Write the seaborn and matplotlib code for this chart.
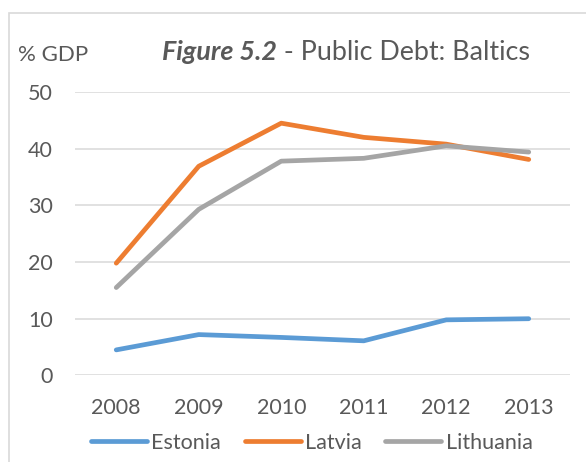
import pandas as pd
import matplotlib.pyplot as plt
import seaborn as sns
from matplotlib.patches import Rectangle

# Данные, % ВВП
years = [2008, 2009, 2010, 2011, 2012, 2013]
estonia = [4.5, 7.2, 6.7, 6.1, 9.8, 10.0]
latvia = [19.8, 36.9, 44.5, 42.0, 40.8, 38.1]
lithuania = [15.5, 29.3, 37.8, 38.3, 40.5, 39.4]
countries = ["Estonia", "Latvia", "Lithuania"]
colors = ["#5B9BD5", "#ED7D31", "#A5A5A5"]

df = pd.DataFrame({"Year": years * 3,
                   "Debt": estonia + latvia + lithuania,
                   "Country": [c for c in countries for _ in years]})

sns.set_style("white")
plt.rcParams["font.family"] = ["Lato", "DejaVu Sans"]
text_color = "#595959"

fig = plt.figure(figsize=(5.86, 4.62), dpi=100)
ax = fig.add_axes([75 / 586, 1 - 375.4 / 462, 495 / 586, (375.4 - 92) / 462])

sns.lineplot(data=df, x="Year", y="Debt", hue="Country", palette=colors,
             linewidth=3.4, ax=ax, legend=False)
for line in ax.get_lines():
    line.set_solid_capstyle("round")
    line.set_solid_joinstyle("round")

ax.set_xlim(years[0] - 0.5, years[-1] + 0.5)
ax.set_ylim(0, 50)
ax.set_xticks(years)
ax.set_yticks(range(0, 51, 10))
ax.set_xlabel("")
ax.set_ylabel("")
ax.grid(axis="y", color="#D9D9D9", linewidth=1.1)
ax.set_axisbelow(True)
for s in ax.spines.values():
    s.set_visible(False)
ax.tick_params(axis="both", length=0, labelsize=15.5, colors=text_color)
ax.tick_params(axis="y", pad=16)
ax.tick_params(axis="x", pad=16)

# Легенда
handles = [plt.Line2D([], [], color=c, linewidth=3.4, solid_capstyle="round") for c in colors]
fig.legend(handles, countries, loc="center", bbox_to_anchor=(0.532, 1 - 443 / 462),
           ncol=3, frameon=False, fontsize=15.5, handlelength=2.6,
           handletextpad=0.2, columnspacing=1.1, labelcolor=text_color)

# Заголовок и подпись оси
fig.text(18 / 586, 1 - 55 / 462, "% GDP", fontsize=16, color=text_color,
         ha="left", va="center")
t1 = fig.text(162 / 586, 1 - 52 / 462, "Figure 5.2", fontsize=19.4, color=text_color,
              fontweight="bold", fontstyle="italic", ha="left", va="center")
fig.canvas.draw()
bb = t1.get_window_extent()
fig.text(bb.x1 / fig.bbox.width, 1 - 52 / 462, " - Public Debt: Baltics", fontsize=19.4,
         color=text_color, ha="left", va="center")

# Рамка диаграммы
fig.patches.append(Rectangle((9 / 586, -0.1), 1.0, (462 - 13) / 462 + 0.1,
                             transform=fig.transFigure, fill=False,
                             edgecolor="#D9D9D9", linewidth=1.2))

fig.savefig("out.png", dpi=100)
